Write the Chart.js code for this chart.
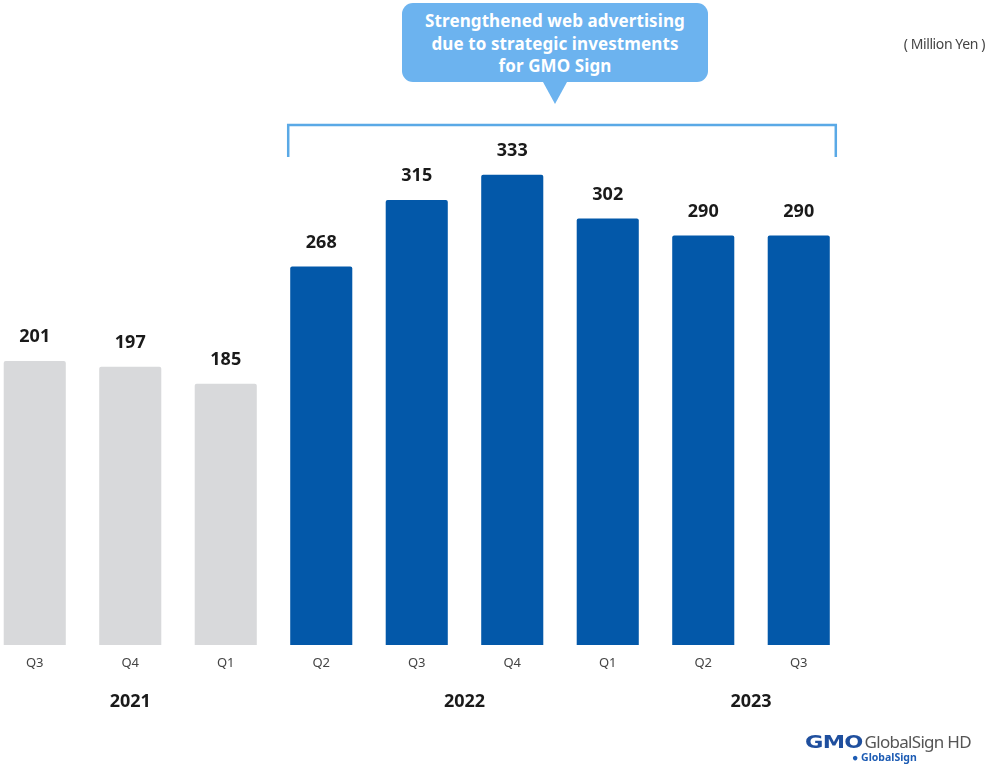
<!DOCTYPE html>
<html>
<head>
<meta charset="utf-8">
<script src="https://cdn.jsdelivr.net/npm/chart.js@4.4.1/dist/chart.umd.min.js"></script>
<style>
  html, body { margin: 0; padding: 0; background: #fff; }
  body { width: 986px; height: 767px; position: relative; overflow: hidden; font-family: "Noto Sans", sans-serif; }
  #wrap { position: absolute; left: -13px; top: 0; width: 999px; height: 767px; }
  .callout {
    position: absolute; left: 402px; top: 3px; width: 306px; height: 79px;
    background: #6cb3ef; border-radius: 11px; color: #fff;
    font-weight: bold; font-size: 17px; line-height: 22.5px; text-align: center;
    box-sizing: border-box; padding-top: 7px; letter-spacing: 0.1px;
  }
  .callout:after {
    content: ""; position: absolute; left: 141px; top: 79px;
    border-left: 12px solid transparent; border-right: 12px solid transparent;
    border-top: 22px solid #6cb3ef;
  }
  .unit { position: absolute; right: 1px; top: 34px; font-size: 14px; color: #444; letter-spacing: -0.4px; }
  .logo { position: absolute; left: 805px; top: 730px; width: 181px; height: 37px; white-space: nowrap; }
  .logo .gmo { font-family: "DejaVu Sans", sans-serif; font-weight: bold; font-size: 17px; color: #1f4f9e; letter-spacing: -0.6px; transform: scaleX(1.32); display: inline-block; transform-origin: left; margin-right: 16px; }
  .logo .hd { font-size: 17px; color: #555; letter-spacing: -0.7px; }
  .logo .sub { position: absolute; left: 47px; top: 21px; font-size: 10.5px; font-weight: bold; color: #1d5cb4; line-height: 12px; }
</style>
</head>
<body>
<div id="wrap"><canvas id="grafico" width="999" height="767"></canvas></div>
<div class="callout">Strengthened web advertising<br>due to strategic investments<br>for GMO Sign</div>
<div class="unit">( Million Yen )</div>
<div class="logo"><span class="gmo">GMO</span><span class="hd">GlobalSign HD</span><div class="sub">&#9679; GlobalSign</div></div>
<script>
// Vendas por trimestre (milhões de ienes)
const trimestres = ['Q3', 'Q4', 'Q1', 'Q2', 'Q3', 'Q4', 'Q1', 'Q2', 'Q3'];
const valores = [201, 197, 185, 268, 315, 333, 302, 290, 290];
const anos = ['2021', '2022', '2023'];
const posicaoAnos = [1, 4.5, 7.5]; // índice da categoria onde fica o rótulo do ano
const inicioInvestimento = 3; // primeira barra azul

const cinza = '#d8d9db';
const azul = '#0358a9';
const cores = valores.map((v, i) => i < inicioInvestimento ? cinza : azul);

//Rótulos de valor em cima das barras
const rotulosValores = {
  id: 'rotulosValores',
  afterDatasetsDraw(chart) {
    const ctx = chart.ctx;
    const meta = chart.getDatasetMeta(0);
    ctx.save();
    ctx.font = 'bold 18px "Noto Sans"';
    ctx.fillStyle = '#1a1a1a';
    ctx.textAlign = 'center';
    ctx.textBaseline = 'middle';
    meta.data.forEach((bar, i) => {
      ctx.fillText(valores[i], bar.x, bar.y - 24);
    });
    ctx.restore();
  }
};

//Anos embaixo dos trimestres + colchete sobre as barras azuis
const anosEColchete = {
  id: 'anosEColchete',
  afterDraw(chart) {
    const ctx = chart.ctx;
    const x = chart.scales.x;
    ctx.save();
    ctx.font = 'bold 18px "Noto Sans"';
    ctx.fillStyle = '#1a1a1a';
    ctx.textAlign = 'center';
    ctx.textBaseline = 'middle';
    anos.forEach((ano, i) => {
      ctx.fillText(ano, x.getPixelForValue(posicaoAnos[i]), 702);
    });

    const meta = chart.getDatasetMeta(0);
    const primeira = meta.data[inicioInvestimento];
    const ultima = meta.data[meta.data.length - 1];
    const esq = primeira.x - primeira.width / 2 - 2;
    const dir = ultima.x + ultima.width / 2 + 6;
    ctx.strokeStyle = '#5aa9e6';
    ctx.lineWidth = 2.5;
    ctx.beginPath();
    ctx.moveTo(esq, 157);
    ctx.lineTo(esq, 125);
    ctx.lineTo(dir, 125);
    ctx.lineTo(dir, 157);
    ctx.stroke();
    ctx.restore();
  }
};

new Chart(document.getElementById('grafico').getContext('2d'), {
  type: 'bar',
  data: {
    labels: trimestres,
    datasets: [{
      data: valores,
      backgroundColor: cores,
      borderRadius: { topLeft: 2, topRight: 2 },
      borderSkipped: 'bottom',
      categoryPercentage: 1,
      barPercentage: 0.65
    }]
  },
  options: {
    responsive: false,
    animation: false,
    devicePixelRatio: 1,
    layout: { padding: { top: 80, right: 139.5, left: 0, bottom: 0 } },
    plugins: { legend: { display: false }, tooltip: { enabled: false } },
    scales: {
      x: {
        grid: { display: false },
        border: { display: false },
        ticks: { color: '#444', font: { family: 'Noto Sans', size: 13 }, padding: 2, maxRotation: 0 },
        afterFit: (s) => { s.height = 767 - 645; }
      },
      y: {
        display: false,
        min: 0,
        max: 400
      }
    }
  },
  plugins: [rotulosValores, anosEColchete]
});
</script>
</body>
</html>
